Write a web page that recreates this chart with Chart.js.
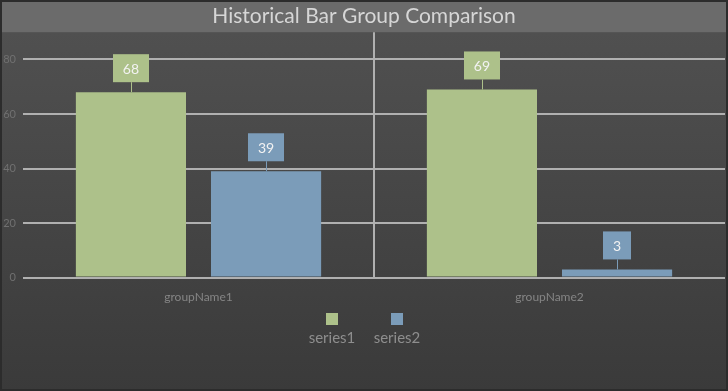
<!DOCTYPE html>
<html>
<head>
<meta charset="utf-8">
<script src="https://cdn.jsdelivr.net/npm/chart.js@4/dist/chart.umd.min.js"></script>
<style>
  html, body { margin: 0; padding: 0; background: #444; }
  #wrap { width: 728px; height: 391px; position: relative; }
</style>
</head>
<body>
<div id="wrap"><canvas id="c" width="728" height="391"></canvas></div>
<script>
const titleText = 'Historical Bar Group Comparison';
const categories = ['groupName1', 'groupName2'];
const seriesNames = ['series1', 'series2'];
const series1 = [68, 69];
const series2 = [39, 3];
const yTicks = [0, 20, 40, 60, 80];
const seriesColors = ['#adc18a', '#7b9cb9'];

const bgPlugin = {
  id: 'bg',
  beforeDraw(chart) {
    const { ctx, width, height } = chart;
    ctx.save();
    const g = ctx.createLinearGradient(0, 0, 0, height);
    g.addColorStop(0, '#525252');
    g.addColorStop(1, '#3a3a3a');
    ctx.fillStyle = g;
    ctx.fillRect(0, 0, width, height);
    ctx.fillStyle = '#6b6b6b';
    ctx.fillRect(0, 0, width, chart.chartArea.top);
    ctx.strokeStyle = '#2c2c2c';
    ctx.lineWidth = 2;
    ctx.strokeRect(1, 1, width - 2, height - 2);
    ctx.restore();
  }
};

const labelPlugin = {
  id: 'boxLabels',
  afterDatasetsDraw(chart) {
    const { ctx } = chart;
    ctx.save();
    ctx.font = '14px Lato, "Open Sans", sans-serif';
    ctx.textAlign = 'center';
    ctx.textBaseline = 'middle';
    chart.data.datasets.forEach((ds, di) => {
      const meta = chart.getDatasetMeta(di);
      meta.data.forEach((bar, i) => {
        const txt = String(ds.data[i]);
        const w = Math.max(28, ctx.measureText(txt).width + 20);
        const h = 28;
        const bottom = bar.y - 10;
        const top = bottom - h;
        ctx.strokeStyle = seriesColors[di];
        ctx.lineWidth = 1;
        ctx.beginPath();
        ctx.moveTo(Math.round(bar.x) + 0.5, bottom);
        ctx.lineTo(Math.round(bar.x) + 0.5, bar.y);
        ctx.stroke();
        ctx.fillStyle = seriesColors[di];
        ctx.fillRect(Math.round(bar.x - w / 2), top, Math.round(w), h);
        ctx.fillStyle = '#f2f2f2';
        ctx.fillText(txt, bar.x, top + h / 2 + 1);
      });
    });
    ctx.restore();
  }
};

const legendPlugin = {
  id: 'customLegend',
  afterDraw(chart) {
    const { ctx, width } = chart;
    ctx.save();
    ctx.font = '15px Lato, "Open Sans", sans-serif';
    ctx.textAlign = 'center';
    ctx.textBaseline = 'middle';
    const cx = width / 2;
    const centers = [cx - 32, cx + 33];
    seriesNames.forEach((name, i) => {
      const x = centers[i];
      ctx.fillStyle = seriesColors[i];
      ctx.fillRect(Math.round(x - 6), 313, 12, 12);
      ctx.fillStyle = '#8e8e8e';
      ctx.fillText(name, x, 338);
    });
    ctx.restore();
  }
};

new Chart(document.getElementById('c'), {
  type: 'bar',
  data: {
    labels: categories,
    datasets: [
      { label: seriesNames[0], data: series1, backgroundColor: seriesColors[0] },
      { label: seriesNames[1], data: series2, backgroundColor: seriesColors[1] }
    ]
  },
  options: {
    responsive: false,
    animation: false,
    categoryPercentage: 0.77,
    barPercentage: 0.815,
    layout: { padding: { left: 3, right: 3, top: 0, bottom: 75 } },
    plugins: {
      legend: { display: false },
      tooltip: { enabled: false },
      title: {
        display: true,
        text: titleText,
        color: '#d6d6d6',
        font: { family: 'Lato, "Open Sans", sans-serif', size: 21, weight: 'normal' },
        padding: { top: 4, bottom: 3 }
      }
    },
    scales: {
      x: {
        grid: {
          offset: true,
          drawTicks: false,
          lineWidth: 2,
          color: (c) => c.index === 1 ? '#b0b0b0' : 'rgba(0,0,0,0)'
        },
        border: { display: false },
        ticks: {
          color: '#858585',
          padding: 12,
          font: { family: 'Lato, "Open Sans", sans-serif', size: 12 }
        }
      },
      y: {
        min: 0,
        max: 90,
        afterBuildTicks: (axis) => {
          axis.ticks = yTicks.map(v => ({ value: v }));
        },
        afterFit: (axis) => { axis.width = 20; },
        grid: { drawTicks: false, lineWidth: 2, color: '#b0b0b0' },
        border: { display: false },
        ticks: {
          color: '#707070',
          padding: 7,
          font: { family: 'Lato, "Open Sans", sans-serif', size: 11 }
        }
      }
    }
  },
  plugins: [bgPlugin, labelPlugin, legendPlugin]
});
</script>
</body>
</html>
